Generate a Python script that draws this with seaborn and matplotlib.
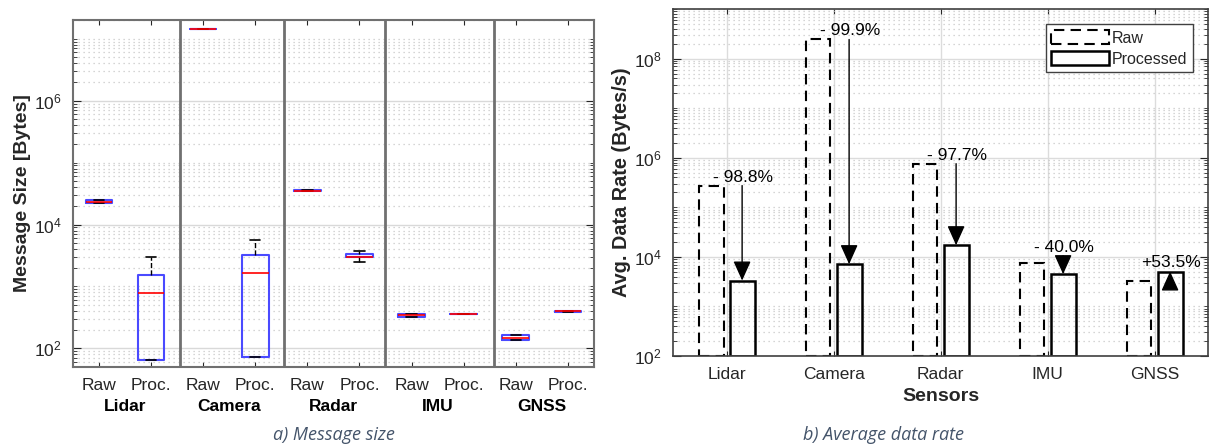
import numpy as np
import pandas as pd
import matplotlib
matplotlib.use("Agg")
import matplotlib.pyplot as plt
import matplotlib.ticker as mticker
from matplotlib.patches import Patch
import seaborn as sns

# Donnees
sensors = ["Lidar", "Camera", "Radar", "IMU", "GNSS"]
kinds = ["Raw", "Proc."]

# 5 valeurs par boite : [moustache basse, Q1, mediane, Q3, moustache haute]
lidar_raw = [2.2e4, 2.25e4, 2.35e4, 2.45e4, 2.5e4]
lidar_proc = [64, 64, 790, 1510, 2960]
camera_raw = [1.42e7, 1.43e7, 1.43e7, 1.44e7, 1.44e7]
camera_proc = [72, 72, 1660, 3250, 5650]
radar_raw = [3.45e4, 3.5e4, 3.53e4, 3.6e4, 3.62e4]
radar_proc = [2460, 2940, 2990, 3370, 3800]
imu_raw = [325, 325, 345, 363, 363]
imu_proc = [355, 357, 359, 361, 363]
gnss_raw = [135, 135, 147, 166, 166]
gnss_proc = [392, 393, 395, 397, 398]

# Debit moyen (Bytes/s)
rate_raw = [2.75e5, 2.44e8, 7.6e5, 7460, 3300]
rate_proc = [3330, 7130, 1.72e4, 4480, 5070]
change_labels = ["- 98.8%", "- 99.9%", "- 97.7%", "- 40.0%", "+53.5%"]

# separateurs entre capteurs (graphique a)
separators = [1.56, 3.55, 5.5, 7.59]

sns.set_style("ticks")
plt.rcParams["font.family"] = ["Liberation Sans", "DejaVu Sans"]
plt.rcParams["mathtext.fontset"] = "custom"
plt.rcParams["mathtext.rm"] = "Liberation Sans"

txt = "#262626"

fig = plt.figure(figsize=(12.15, 4.47), dpi=100)
ax1 = fig.add_axes([0.060, 0.179, 0.4288, 0.776])
ax2 = fig.add_axes([0.554, 0.2036, 0.4403, 0.776])

# ---- a) Message size ----
boxes = [lidar_raw, lidar_proc, camera_raw, camera_proc, radar_raw,
         radar_proc, imu_raw, imu_proc, gnss_raw, gnss_proc]
keys = [f"{s} {k}" for s in sensors for k in kinds]
df_box = pd.DataFrame({
    "key": np.repeat(keys, 5),
    "size": np.concatenate(boxes),
})

sns.boxplot(
    data=df_box, x="key", y="size", order=keys, ax=ax1,
    width=0.51, fill=False, whis=(0, 100), showfliers=False,
    log_scale=(False, True), color="#4a4aff", linewidth=1.5,
    medianprops=dict(color="red", linewidth=1.2),
    whiskerprops=dict(color="black", linestyle="--", linewidth=1),
    capprops=dict(color="black", linewidth=1.2),
    capwidths=0.2,
)

ax1.set_ylim(50, 2e7)
ax1.set_xlim(-0.5, 9.5)
ax1.yaxis.set_major_locator(mticker.FixedLocator([1e2, 1e4, 1e6]))
ax1.yaxis.set_minor_locator(mticker.LogLocator(base=10, subs=np.arange(1, 10), numticks=30))
ax1.yaxis.set_minor_formatter(mticker.NullFormatter())
ax1.grid(axis="y", which="major", color="#d9d9d9", linewidth=1)
ax1.grid(axis="y", which="minor", color="#c8c8c8", linestyle=(0, (1, 3)), linewidth=0.9)
ax1.set_axisbelow(True)
for s in separators:
    ax1.axvline(s, color="#707070", linewidth=2)

ax1.set_xticks(range(10))
ax1.set_xticklabels(kinds * 5)
ax1.tick_params(axis="both", which="both", direction="in", top=True, right=True,
                labelsize=12.5, colors=txt, pad=8)
ax1.tick_params(axis="y", which="major", length=6)
ax1.tick_params(axis="y", which="minor", length=3)
for i, s in enumerate(sensors):
    ax1.text(2 * i + 0.5, -0.115, s, transform=ax1.get_xaxis_transform(),
             ha="center", va="center", fontsize=12.5, fontweight="bold", color="black")
ax1.set_xlabel("")
ax1.set_ylabel("Message Size [Bytes]", fontsize=14, fontweight="bold", color=txt)
ax1.yaxis.set_label_coords(-0.081, 0.5)
for sp in ax1.spines.values():
    sp.set_color("#707070")
    sp.set_linewidth(1.5)

# ---- b) Average data rate ----
df_rate = pd.DataFrame({
    "Sensors": sensors * 2,
    "type": ["Raw"] * 5 + ["Processed"] * 5,
    "rate": rate_raw + rate_proc,
})
sns.barplot(
    data=df_rate, x="Sensors", y="rate", hue="type", order=sensors,
    hue_order=["Raw", "Processed"], ax=ax2, fill=False, width=0.58, gap=0.2,
    log_scale=(False, True), legend=False, errorbar=None,
)
ymin = 1e2
raw_bars = ax2.patches[:5]
proc_bars = ax2.patches[5:10]
for p in list(raw_bars) + list(proc_bars):
    # barres partant du bas de l'axe (echelle log)
    top = p.get_y() + p.get_height()
    p.set_y(ymin)
    p.set_height(top - ymin)
    p.set_edgecolor("black")
for p in raw_bars:
    p.set_linestyle((0, (5, 3)))
    p.set_linewidth(1.5)
for p in proc_bars:
    p.set_linewidth(1.8)

ax2.set_ylim(ymin, 1e9)
ax2.set_xlim(-0.5, 4.5)
ax2.yaxis.set_major_locator(mticker.FixedLocator([1e2, 1e4, 1e6, 1e8]))
ax2.yaxis.set_minor_locator(mticker.LogLocator(base=10, subs=np.arange(1, 10), numticks=30))
ax2.yaxis.set_minor_formatter(mticker.NullFormatter())
ax2.grid(axis="both", which="major", color="#dcdcdc", linewidth=1)
ax2.grid(axis="y", which="minor", color="#c8c8c8", linestyle=(0, (1, 3)), linewidth=0.9)
ax2.set_axisbelow(True)
ax2.tick_params(axis="both", which="both", direction="in", top=True, right=True,
                labelsize=12.5, colors=txt, pad=8)
ax2.tick_params(axis="y", which="major", length=6)
ax2.tick_params(axis="y", which="minor", length=3)
ax2.set_xlabel("Sensors", fontsize=14, fontweight="bold", color=txt, labelpad=4)
ax2.set_ylabel("Avg. Data Rate (Bytes/s)", fontsize=14.3, fontweight="bold", color=txt)
ax2.yaxis.set_label_coords(-0.0785, 0.5)
for sp in ax2.spines.values():
    sp.set_color("#404040")
    sp.set_linewidth(1.2)

# fleches et pourcentages
for i in range(5):
    rb, pb = raw_bars[i], proc_bars[i]
    xr = rb.get_x() + rb.get_width() / 2
    xp = pb.get_x() + pb.get_width() / 2
    r, q = rate_raw[i], rate_proc[i]
    if q < r:
        start = max(r, q * 2.35)   # laisse la place a la pointe de fleche
        label_y = start
    else:
        start = r
        label_y = q
    ax2.annotate("", xy=(xp, q), xytext=(xp, start),
                 arrowprops=dict(arrowstyle="-|>,head_length=1.0,head_width=0.45",
                                 color="black", lw=1, mutation_scale=12,
                                 shrinkA=0, shrinkB=0))
    ax2.text(xr + 0.02, label_y * 1.05, change_labels[i], ha="left", va="bottom",
             fontsize=12.5, color="black")

handles = [
    Patch(facecolor="none", edgecolor="black", linestyle=(0, (5, 3)), linewidth=1.5, label="Raw"),
    Patch(facecolor="none", edgecolor="black", linewidth=1.8, label="Processed"),
]
ax2.legend(handles=handles, loc="upper right", fontsize=11.5, fancybox=False,
           framealpha=1, edgecolor="#404040", handlelength=3.6, handleheight=1.0,
           handletextpad=0.2, labelspacing=0.35, borderaxespad=0.95, borderpad=0.35)

# legendes des sous-figures
fig.text(0.275, 0.027, "a) Message size", ha="center", va="center", fontsize=13,
         style="italic", family="Open Sans", color="#44546A")
fig.text(0.7275, 0.027, "b) Average data rate", ha="center", va="center", fontsize=13,
         style="italic", family="Open Sans", color="#44546A")

fig.savefig("out.png", dpi=100)
